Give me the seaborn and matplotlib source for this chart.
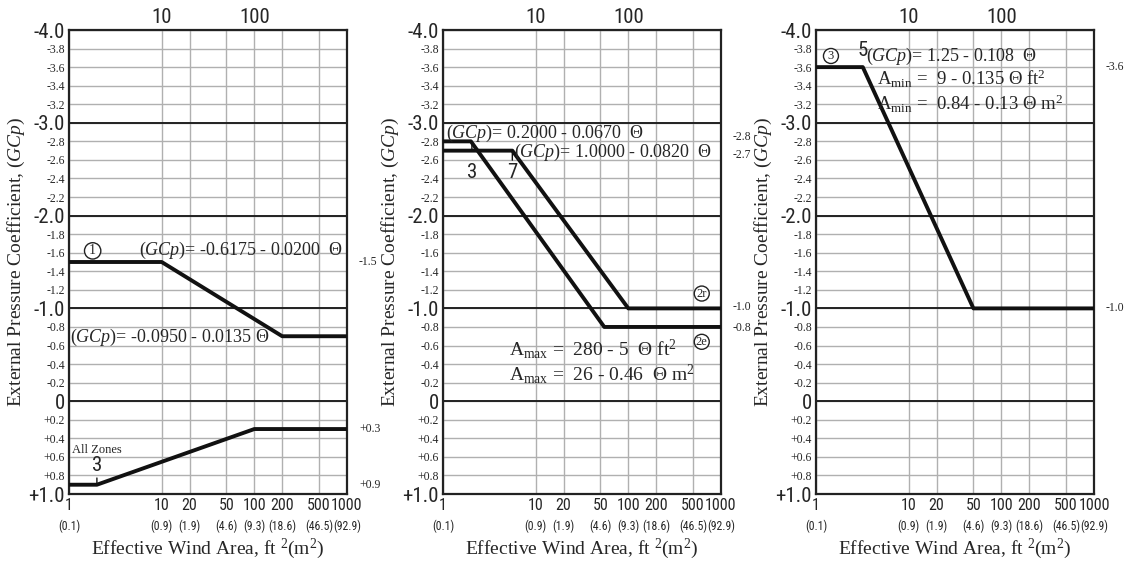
import numpy as np
import pandas as pd
import matplotlib
matplotlib.use("Agg")
import matplotlib.pyplot as plt
from matplotlib import font_manager as fm
import matplotlib.transforms as mtransforms
import seaborn as sns

# ---------------- data ----------------
x_ticks = [1, 10, 20, 50, 100, 200, 500, 1000]
x_tick_labels = ["1", "10", "20", "50", "100", "200", "500", "1000"]
x_metric_labels = ["(0.1)", "(0.9)", "(1.9)", "(4.6)", "(9.3)", "(18.6)", "(46.5)", "(92.9)"]
top_ticks = [10, 100]
top_tick_labels = ["10", "100"]
y_ticks = [round(v, 1) for v in np.arange(-4.0, 1.01, 0.2)]

# panel 1
p1_zone1_x = [1, 10, 200, 1000]
p1_zone1_y = [-1.5, -1.5, -0.7, -0.7]
p1_all_x = [1, 2, 100, 1000]
p1_all_y = [0.9, 0.9, 0.3, 0.3]
# panel 2
p2_zone2e_x = [1, 2, 55, 1000]
p2_zone2e_y = [-2.8, -2.8, -0.8, -0.8]
p2_zone2r_x = [1, 5.6, 100, 1000]
p2_zone2r_y = [-2.7, -2.7, -1.0, -1.0]
# panel 3
p3_zone3_x = [1, 3.2, 50, 1000]
p3_zone3_y = [-3.6, -3.6, -1.0, -1.0]

# ---------------- fonts ----------------
def pick(families):
    for f in families:
        try:
            fm.findfont(fm.FontProperties(family=f), fallback_to_default=False)
            return f
        except Exception:
            pass
    return "DejaVu Sans"

SERIF = pick(["Liberation Serif", "DejaVu Serif"])
NARROW = pick(["Liberation Sans Narrow", "Roboto Condensed", "Liberation Sans"])

sns.set_theme(style="white")
plt.rcParams["font.family"] = [SERIF, "DejaVu Serif"]
plt.rcParams["mathtext.fontset"] = "custom"
plt.rcParams["mathtext.rm"] = SERIF
plt.rcParams["mathtext.it"] = SERIF + ":italic"
plt.rcParams["mathtext.bf"] = SERIF + ":bold"

fig = plt.figure(figsize=(11.30, 5.71), dpi=100)
W, H = 1130, 571
lefts = [69, 443, 816]
top_px, bot_px = 30, 494
axw = 278
axes = []
for l in lefts:
    ax = fig.add_axes([l / W, 1 - bot_px / H, axw / W, (bot_px - top_px) / H])
    axes.append(ax)

GC = r"$(\mathit{GCp})$"


def fmt_y(v):
    if abs(v) < 1e-9:
        return "0"
    if v > 0:
        return "+%.1f" % v
    return "%.1f" % v


def setup(ax):
    ax.set_xscale("log")
    ax.set_xlim(1, 1000)
    ax.set_ylim(1.0, -4.0)
    ax.set_xticks(x_ticks)
    ax.set_xticklabels(x_tick_labels)
    ax.xaxis.set_minor_locator(matplotlib.ticker.NullLocator())
    ax.set_yticks(y_ticks)
    ax.set_yticklabels([fmt_y(v) for v in y_ticks])
    for v, lab in zip(y_ticks, ax.get_yticklabels()):
        if abs(v - round(v)) < 1e-9:
            lab.set_fontsize(15)
            lab.set_family(NARROW)
        else:
            lab.set_fontsize(8.5)
            lab.set_family(SERIF)
    for lab in ax.get_xticklabels():
        lab.set_fontsize(11.5)
        lab.set_family(NARROW)
    ax.tick_params(axis="both", which="both", length=0)
    ax.tick_params(axis="y", pad=3)
    ax.tick_params(axis="x", pad=3)
    ax.grid(True, which="major", color="#b0b0b0", lw=1.0)
    for v in [-3, -2, -1, 0]:
        ax.axhline(v, color="#222222", lw=1.4, zorder=2)
    for s in ax.spines.values():
        s.set_color("#222222")
        s.set_linewidth(1.6)
        s.set_visible(True)
    sec = ax.secondary_xaxis("top")
    sec.set_xticks(top_ticks)
    sec.set_xticklabels(top_tick_labels, fontsize=15, family=NARROW)
    sec.xaxis.set_minor_locator(matplotlib.ticker.NullLocator())
    sec.tick_params(which="both", length=0, pad=2)
    sec.spines["top"].set_visible(False)
    trans = mtransforms.blended_transform_factory(ax.transData, ax.transAxes)
    for xv, ml in zip(x_ticks, x_metric_labels):
        ax.annotate(ml, xy=(xv, 0), xycoords=trans, xytext=(0, -32),
                    textcoords="offset pixels", ha="center", va="center",
                    fontsize=8.5, family=NARROW)
    ax.set_ylabel("External Pressure Coefficient, " + GC, fontsize=14)
    ax.yaxis.set_label_coords(-0.15, 0.5)
    ax.set_xlabel(r"Effective Wind Area, ft $^{2}$(m$^{2}$)", fontsize=14, labelpad=17)


def line(ax, xs, ys):
    df = pd.DataFrame({"x": xs, "y": ys})
    sns.lineplot(data=df, x="x", y="y", ax=ax, color="#111111", lw=2.8,
                 estimator=None, sort=False, zorder=5)
    ax.set_xlabel("")
    ax.set_ylabel("")


def right_label(ax, v, txt, dy=0):
    trans = mtransforms.blended_transform_factory(ax.transAxes, ax.transData)
    ax.annotate(txt, xy=(1, v), xycoords=trans, xytext=(12, dy),
                textcoords="offset pixels", ha="left", va="center",
                fontsize=8.5, annotation_clip=False)


def circ(ax, x, y, t, fs=10):
    ax.text(x, y, t, ha="center", va="center", fontsize=fs, zorder=6,
            bbox=dict(boxstyle="circle,pad=0.12", fc="white", ec="#222222", lw=1.0))


EQ = 13
BT = mtransforms.blended_transform_factory
# ---------------- panel 1 ----------------
ax = axes[0]
line(ax, p1_zone1_x, p1_zone1_y)
line(ax, p1_all_x, p1_all_y)
setup(ax)
circ(ax, 1.8, -1.62, "1")
ax.text(0.985, -1.62, GC + "= -0.6175 - 0.0200  Θ", transform=BT(ax.transAxes, ax.transData),
        ha="right", va="center", fontsize=EQ, zorder=6)
ax.text(0.005, -0.69, GC + "= -0.0950 - 0.0135 Θ", transform=BT(ax.transAxes, ax.transData),
        ha="left", va="center", fontsize=EQ, zorder=6)
ax.text(1.07, 0.53, "All Zones", ha="left", va="center", fontsize=9)
ax.annotate("3", xy=(2, 0.89), xytext=(2, 0.69), ha="center", va="center",
            fontsize=15, family=NARROW,
            arrowprops=dict(arrowstyle="-", color="#111111", lw=1, shrinkA=6, shrinkB=0))
right_label(ax, -1.5, "-1.5")
right_label(ax, 0.3, "+0.3")
right_label(ax, 0.9, "+0.9")

# ---------------- panel 2 ----------------
ax = axes[1]
line(ax, p2_zone2e_x, p2_zone2e_y)
line(ax, p2_zone2r_x, p2_zone2r_y)
setup(ax)
ax.text(1.08, -2.89, GC + "= 0.2000 - 0.0670  Θ", ha="left", va="center", fontsize=EQ, zorder=6)
ax.text(5.9, -2.68, GC + "= 1.0000 - 0.0820  Θ", ha="left", va="center", fontsize=EQ, zorder=6)
ax.annotate("3", xy=(2.05, -2.78), xytext=(2.05, -2.46), ha="center", va="center",
            fontsize=15, family=NARROW,
            arrowprops=dict(arrowstyle="-", color="#111111", lw=1, shrinkA=7, shrinkB=0))
ax.annotate("7", xy=(5.6, -2.7), xytext=(5.6, -2.46), ha="center", va="center",
            fontsize=15, family=NARROW,
            arrowprops=dict(arrowstyle="-", color="#111111", lw=1, shrinkA=7, shrinkB=0))
circ(ax, 620, -1.16, "2r", fs=9)
circ(ax, 620, -0.64, "2e", fs=9)
ax.text(5.15, -0.56, r"A$_{\rm max}$ =  280 - 5  Θ ft$^{2}$", ha="left", va="center", fontsize=14, zorder=6)
ax.text(5.15, -0.29, r"A$_{\rm max}$ =  26 - 0.46  Θ m$^{2}$", ha="left", va="center", fontsize=14, zorder=6)
right_label(ax, -2.8, "-2.8", dy=4)
right_label(ax, -2.7, "-2.7", dy=-4)
right_label(ax, -1.0, "-1.0", dy=1)
right_label(ax, -0.8, "-0.8", dy=-1)

# ---------------- panel 3 ----------------
ax = axes[2]
line(ax, p3_zone3_x, p3_zone3_y)
setup(ax)
circ(ax, 1.45, -3.72, "3", fs=9)
ax.text(3.2, -3.78, "5", ha="center", va="center", fontsize=15, family=NARROW, zorder=6)
ax.text(3.5, -3.72, GC + "= 1.25 - 0.108  Θ", ha="left", va="center", fontsize=EQ, zorder=6)
ax.text(4.6, -3.47, r"A$_{\rm min}$ =  9 - 0.135 Θ ft$^{2}$", ha="left", va="center", fontsize=13.5, zorder=6)
ax.text(4.6, -3.20, r"A$_{\rm min}$ =  0.84 - 0.13 Θ m$^{2}$", ha="left", va="center", fontsize=13.5, zorder=6)
right_label(ax, -3.6, "-3.6")
right_label(ax, -1.0, "-1.0")

fig.savefig("out.png", dpi=100, facecolor="white")
